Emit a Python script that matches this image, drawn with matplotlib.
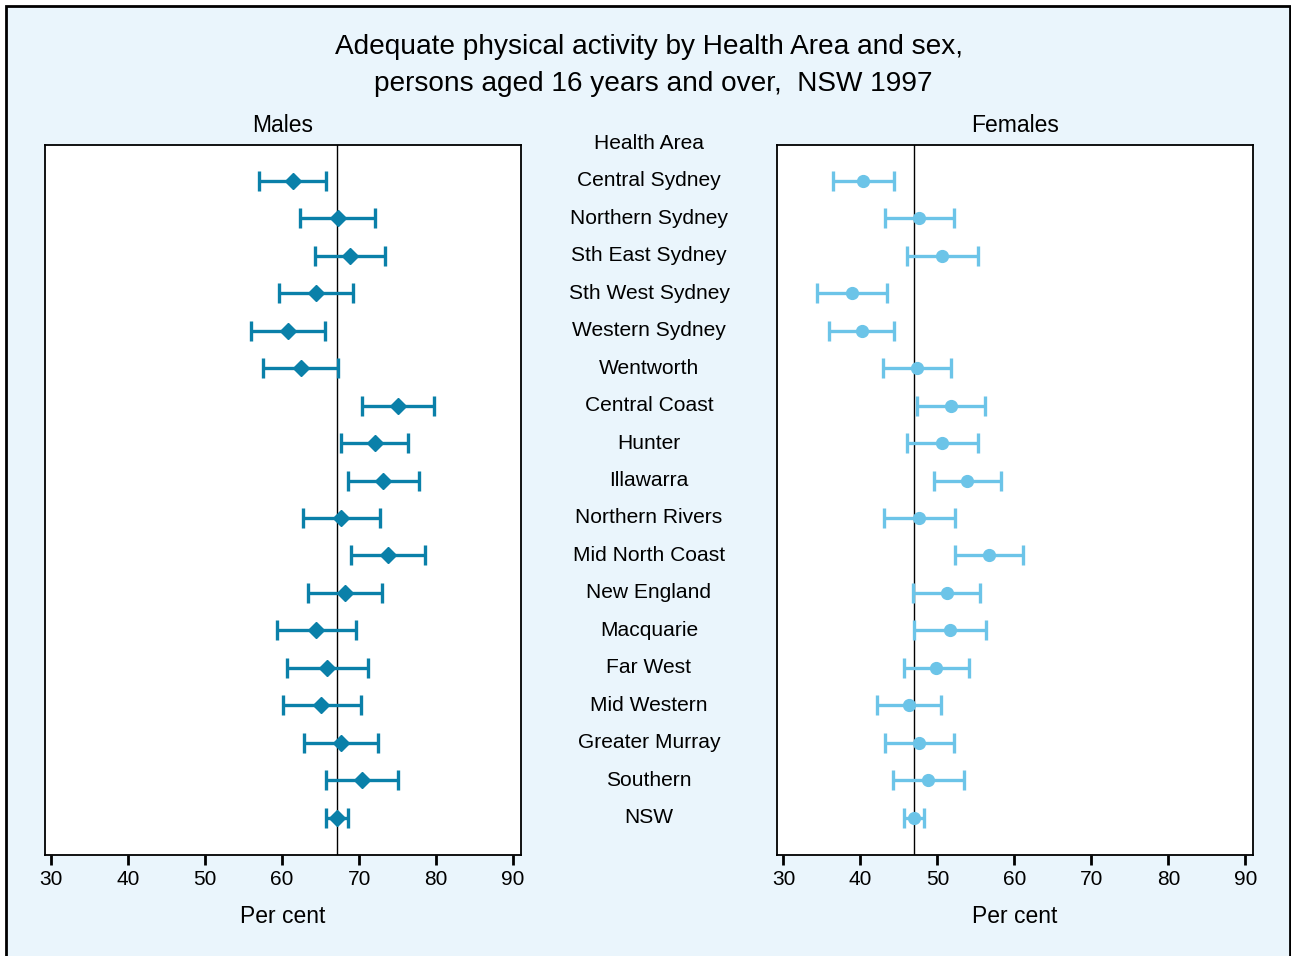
import matplotlib
matplotlib.use("Agg")
import matplotlib.pyplot as plt
import matplotlib.transforms as mtransforms
from matplotlib.patches import Rectangle

plt.rcParams['font.family'] = ['Liberation Sans', 'DejaVu Sans']

areas = ["Central Sydney", "Northern Sydney", "Sth East Sydney", "Sth West Sydney",
         "Western Sydney", "Wentworth", "Central Coast", "Hunter", "Illawarra",
         "Northern Rivers", "Mid North Coast", "New England", "Macquarie", "Far West",
         "Mid Western", "Greater Murray", "Southern", "NSW"]

male_est = [61.4, 67.2, 68.8, 64.4, 60.7, 62.4, 75.0, 72.1, 73.1,
            67.7, 73.8, 68.1, 64.4, 65.8, 65.1, 67.6, 70.4, 67.1]
male_lo = [57.0, 62.3, 64.3, 59.6, 55.9, 57.5, 70.4, 67.7, 68.5,
           62.7, 69.0, 63.4, 59.3, 60.6, 60.1, 62.8, 65.7, 65.7]
male_hi = [65.7, 72.1, 73.3, 69.2, 65.5, 67.3, 79.7, 76.4, 77.8,
           72.7, 78.6, 73.0, 69.6, 71.1, 70.2, 72.5, 75.1, 68.5]

female_est = [40.3, 47.6, 50.6, 38.9, 40.2, 47.3, 51.8, 50.6, 53.8,
              47.6, 56.7, 51.2, 51.6, 49.8, 46.3, 47.6, 48.8, 47.0]
female_lo = [36.4, 43.2, 46.1, 34.4, 35.9, 42.9, 47.3, 46.1, 49.5,
             43.1, 52.3, 46.8, 46.9, 45.6, 42.1, 43.2, 44.2, 45.6]
female_hi = [44.3, 52.2, 55.2, 43.4, 44.4, 51.8, 56.2, 55.2, 58.2,
             52.3, 61.1, 55.5, 56.3, 54.1, 50.5, 52.1, 53.4, 48.3]

xticks = [30, 40, 50, 60, 70, 80, 90]

male_color = "#0A80A9"
female_color = "#6CC4E8"
bg = "#EAF5FC"

W, H = 1291, 956
fig = plt.figure(figsize=(W / 100, H / 100), dpi=100, facecolor="white")
frame = Rectangle((6 / W, -0.05), (1290 - 6) / W, 1.05 - 6 / H, transform=fig.transFigure,
                  facecolor=bg, edgecolor="black", linewidth=2.0, zorder=-10)
fig.patches.append(frame)

def add_panel(left_px, est, lo, hi, color, marker, msize, title):
    ax = fig.add_axes([left_px / W, 1 - 855 / H, 475.5 / W, 710 / H])
    ax.set_facecolor("white")
    ys = list(range(1, len(est) + 1))
    xerr = [[e - l for e, l in zip(est, lo)], [h - e for e, h in zip(est, hi)]]
    ax.axvline(est[-1], color="black", lw=1.0, zorder=1)
    ax.errorbar(est, ys, xerr=xerr, fmt=marker, color=color, ecolor=color,
                markersize=msize, elinewidth=2.4, capsize=7.5, capthick=2.4, zorder=3)
    ax.set_xlim(29.2, 90.95)
    ax.set_ylim(19.0, 0.04)
    ax.set_xticks(xticks)
    ax.set_xticklabels([str(t) for t in xticks])
    ax.set_yticks([])
    ax.tick_params(axis="x", direction="out", length=7, width=2, labelsize=15, pad=3.5)
    for s in ax.spines.values():
        s.set_linewidth(1.3)
    ax.set_xlabel("Per cent", fontsize=16.5, labelpad=12)
    ax.set_title(title, fontsize=16.5, pad=9)
    return ax

ax_m = add_panel(45, male_est, male_lo, male_hi, male_color, "D", 8, "Males")
ax_f = add_panel(777.3, female_est, female_lo, female_hi, female_color, "o", 8.5, "Females")

trans = mtransforms.blended_transform_factory(fig.transFigure, ax_m.transData)
cx = 649 / W
fig.text(cx, 0, "Health Area", transform=trans, ha="center", va="center", fontsize=15.1)
for i, name in enumerate(areas):
    fig.text(cx, i + 1, name, transform=trans, ha="center", va="center", fontsize=15.1)

fig.text(649 / W, 1 - 47 / H, "Adequate physical activity by Health Area and sex,",
         ha="center", va="center", fontsize=20.2)
fig.text(653 / W, 1 - 84 / H, "persons aged 16 years and over,  NSW 1997",
         ha="center", va="center", fontsize=20.2)

fig.savefig("out.png", dpi=100, facecolor="white")
